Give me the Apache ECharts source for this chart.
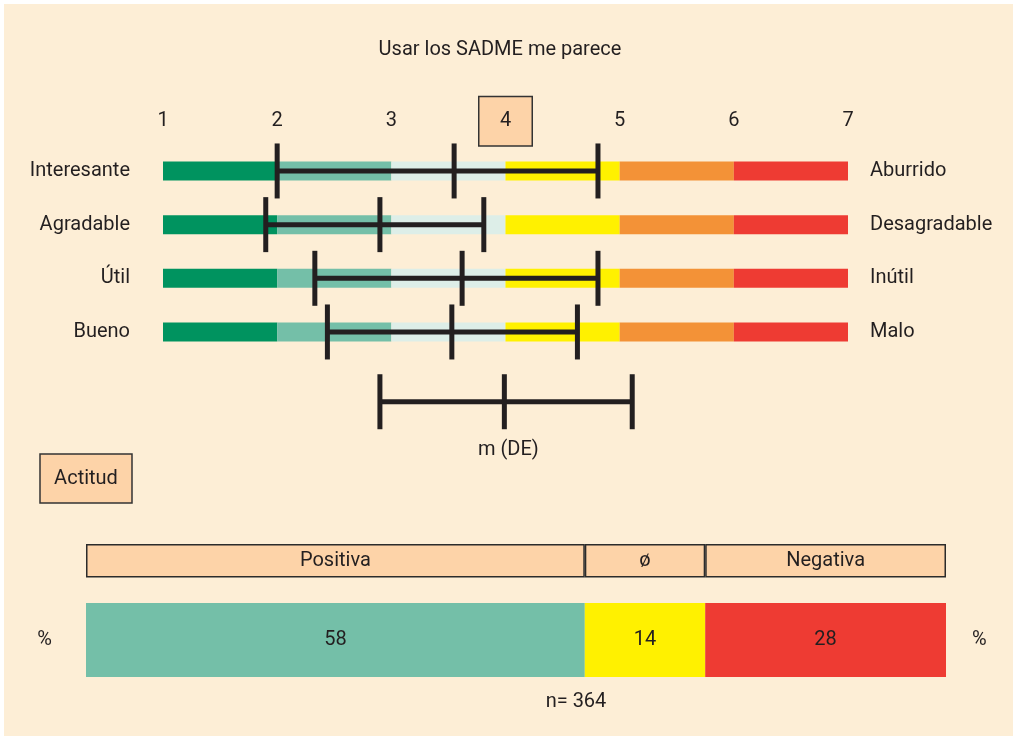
<!DOCTYPE html>
<html>
<head>
<meta charset="utf-8">
<script src="https://cdn.jsdelivr.net/npm/echarts@6/dist/echarts.min.js"></script>
<style>
html,body{margin:0;padding:0;background:#ffffff;}
#chart{position:absolute;left:4px;top:4px;width:1009px;height:732px;}
</style>
</head>
<body>
<div id="chart"></div>
<script>
// ---------- data ----------
const titleText = 'Usar los SADME me parece';
const scaleTicks = [1, 2, 3, 4, 5, 6, 7];
const highlightTick = 4;
const rowsLeft = ['Interesante', 'Agradable', 'Útil', 'Bueno'];
const rowsRight = ['Aburrido', 'Desagradable', 'Inútil', 'Malo'];
const segColors = ['#00935F', '#74BFA8', '#DDEEE8', '#FFF100', '#F39237', '#EE3B33'];
const sdLow = [2.00, 1.90, 2.33, 2.44];
const meanVals = [3.55, 2.90, 3.62, 3.53];
const sdHigh = [4.81, 3.81, 4.81, 4.63];
const legendBar = [2.90, 3.99, 5.11];
const legendRowPos = 4.3;
const legendText = 'm (DE)';
const attitudeTitle = 'Actitud';
const attitudeCats = ['Positiva', 'ø', 'Negativa'];
const attitudePct = [58, 14, 28];
const attitudeColors = ['#74BFA8', '#FFF100', '#EE3B33'];
const pctLabel = '%';
const sampleLabel = 'n= 364';

// ---------- build ----------
const FONT = "'Liberation Sans Narrow', Roboto, sans-serif";
const FS = 20;
const INK = '#231F20';
const PEACH = '#FDD3A8';

const segData = [];
rowsLeft.forEach((_, r) => {
  for (let s = 0; s < scaleTicks.length - 1; s++) {
    segData.push([scaleTicks[s], scaleTicks[s + 1], r, s]);
  }
});
const errData = rowsLeft.map((_, r) => [sdLow[r], meanVals[r], sdHigh[r], r, 0]);
errData.push([legendBar[0], legendBar[1], legendBar[2], legendRowPos, 1]);

function renderSeg(params, api) {
  const a = api.coord([api.value(0), api.value(2)]);
  const b = api.coord([api.value(1), api.value(2)]);
  return {
    type: 'rect',
    shape: { x: a[0], y: a[1] - 9.5, width: b[0] - a[0], height: 19 },
    style: { fill: segColors[api.value(3)] }
  };
}
function renderErr(params, api) {
  const y = api.value(3);
  const pl = api.coord([api.value(0), y]);
  const pm = api.coord([api.value(1), y]);
  const ph = api.coord([api.value(2), y]);
  const capH = 55, capW = 5, lineH = 5;
  const children = [
    { type: 'rect', shape: { x: pl[0], y: pl[1] - lineH / 2, width: ph[0] - pl[0], height: lineH }, style: { fill: INK } },
    { type: 'rect', shape: { x: pl[0] - capW / 2, y: pl[1] - capH / 2, width: capW, height: capH }, style: { fill: INK } },
    { type: 'rect', shape: { x: pm[0] - capW / 2, y: pm[1] - capH / 2, width: capW, height: capH }, style: { fill: INK } },
    { type: 'rect', shape: { x: ph[0] - capW / 2, y: ph[1] - capH / 2, width: capW, height: capH }, style: { fill: INK } }
  ];
  if (api.value(4) === 1) {
    children.push({
      type: 'text',
      style: { text: legendText, x: pm[0] + 4, y: pm[1] + 48, align: 'center', verticalAlign: 'middle',
        fill: INK, font: FS + 'px ' + FONT }
    });
  }
  return { type: 'group', children: children };
}

const chart = echarts.init(document.getElementById('chart'));
const hiddenAxis = { axisLine: { show: false }, axisTick: { show: false }, splitLine: { show: false } };

const option = {
  backgroundColor: '#FDEED6',
  animation: false,
  textStyle: { fontFamily: FONT, color: INK },
  grid: [
    { left: 159, top: 113.3, width: 685, height: 322 },
    { left: 82, top: 540, width: 860, height: 33.5 },
    { left: 82, top: 599, width: 860, height: 74 }
  ],
  xAxis: [
    Object.assign({
      gridIndex: 0, type: 'value', position: 'top', min: 1, max: 7, interval: 1,
      axisLabel: {
        margin: -4, verticalAlign: 'middle', fontFamily: FONT, fontSize: FS, color: INK,
        formatter: v => v === highlightTick ? '{box|' + v + '}' : '{n|' + v + '}',
        rich: {
          n: { fontFamily: FONT, fontSize: FS, color: INK },
          box: { fontFamily: FONT, fontSize: FS, color: INK, width: 52, height: 48, lineHeight: 48, align: 'center',
            backgroundColor: PEACH, borderColor: '#333', borderWidth: 1.5 }
        }
      }
    }, hiddenAxis),
    Object.assign({ gridIndex: 1, type: 'value', min: 0, max: 100, axisLabel: { show: false } }, hiddenAxis),
    Object.assign({ gridIndex: 2, type: 'value', min: 0, max: 100, axisLabel: { show: false } }, hiddenAxis)
  ],
  yAxis: [
    Object.assign({
      gridIndex: 0, type: 'value', min: -1, max: 5, interval: 1, inverse: true,
      axisLabel: { margin: 33, fontFamily: FONT, fontSize: FS, color: INK,
        formatter: v => (rowsLeft[v] !== undefined ? rowsLeft[v] : '') }
    }, hiddenAxis),
    Object.assign({
      gridIndex: 0, type: 'value', position: 'right', min: -1, max: 5, interval: 1, inverse: true,
      axisLabel: { margin: 22, fontFamily: FONT, fontSize: FS, color: INK,
        formatter: v => (rowsRight[v] !== undefined ? rowsRight[v] : '') }
    }, hiddenAxis),
    Object.assign({ gridIndex: 1, type: 'category', data: ['h'], axisLabel: { show: false } }, hiddenAxis),
    Object.assign({ gridIndex: 2, type: 'category', data: [pctLabel],
      axisLabel: { margin: 34, fontFamily: FONT, fontSize: FS, color: INK, padding: [14, 0, 0, 0] } }, hiddenAxis),
    Object.assign({ gridIndex: 2, type: 'category', position: 'right', data: [pctLabel],
      axisLabel: { margin: 26, fontFamily: FONT, fontSize: FS, color: INK, padding: [20, 0, 0, 0] } }, hiddenAxis)
  ],
  series: [
    { type: 'custom', xAxisIndex: 0, yAxisIndex: 0, data: segData, renderItem: renderSeg,
      encode: { x: [0, 1], y: 2 }, z: 2 },
    { type: 'custom', xAxisIndex: 0, yAxisIndex: 0, data: errData, renderItem: renderErr,
      encode: { x: [0, 1, 2], y: 3 }, z: 3, clip: false }
  ].concat(attitudeCats.map((c, i) => ({
    type: 'bar', name: c + ' h', xAxisIndex: 1, yAxisIndex: 2, stack: 'h', barWidth: '100%',
    data: [attitudePct[i]],
    itemStyle: { color: PEACH, borderColor: '#2B2B2B', borderWidth: 1.5 },
    label: { show: true, position: 'inside', formatter: () => c, fontFamily: FONT, fontSize: FS, color: INK }
  }))).concat(attitudeCats.map((c, i) => ({
    type: 'bar', name: c, xAxisIndex: 2, yAxisIndex: 3, stack: 'd', barWidth: '100%',
    data: [attitudePct[i]],
    itemStyle: { color: attitudeColors[i] },
    label: { show: true, position: 'inside', formatter: '{c}', fontFamily: FONT, fontSize: FS, color: INK }
  }))),
  graphic: [
    { type: 'text', x: 496, y: 46, style: { text: titleText, align: 'center', verticalAlign: 'middle', fill: INK, font: FS + 'px ' + FONT } },
    { type: 'rect', shape: { x: 36, y: 450, width: 92, height: 49 }, style: { fill: PEACH, stroke: '#333', lineWidth: 1.5 } },
    { type: 'text', x: 82, y: 474.5, style: { text: attitudeTitle, align: 'center', verticalAlign: 'middle', fill: INK, font: FS + 'px ' + FONT } },
    { type: 'text', x: 572, y: 698, style: { text: sampleLabel, align: 'center', verticalAlign: 'middle', fill: INK, font: FS + 'px ' + FONT } }
  ]
};
chart.setOption(option);
</script>
</body>
</html>
